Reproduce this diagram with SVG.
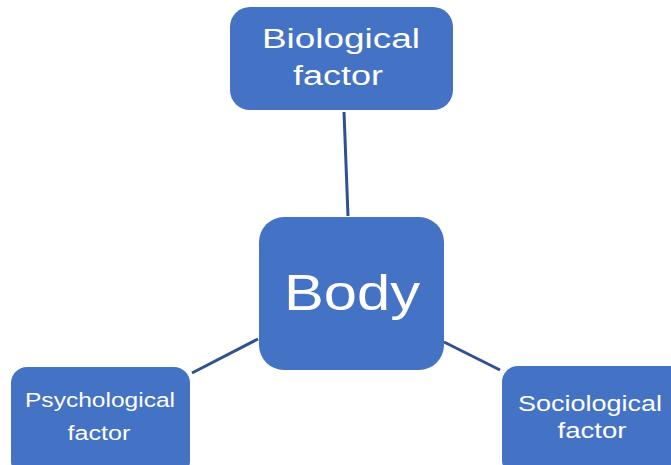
<svg xmlns="http://www.w3.org/2000/svg" width="671" height="465" viewBox="0 0 671 465">
<style>
.box{fill:#4472C4;}
.lbl{fill:#ffffff;font-family:"Liberation Sans","Open Sans",sans-serif;text-anchor:middle;}
.con{stroke:#2F528F;stroke-width:3;fill:none;}
</style>
<rect width="671" height="465" fill="#ffffff"/>
<g id="connectors">
<line class="con" x1="344" y1="112" x2="348" y2="216"/>
<line class="con" x1="192" y1="373" x2="258" y2="339"/>
<line class="con" x1="444" y1="342" x2="500" y2="370"/>
</g>
<g id="biological">
<rect class="box" x="230" y="7" width="223" height="103" rx="20"/>
<text class="lbl" x="341" y="48" font-size="27" textLength="158" lengthAdjust="spacingAndGlyphs">Biological</text>
<text class="lbl" x="338" y="85" font-size="27" textLength="90" lengthAdjust="spacingAndGlyphs">factor</text>
</g>
<g id="body">
<rect class="box" x="259" y="217" width="185" height="153" rx="25"/>
<text class="lbl" x="352" y="310" font-size="50" textLength="136" lengthAdjust="spacingAndGlyphs">Body</text>
</g>
<g id="psychological">
<rect class="box" x="11" y="367" width="179" height="110" rx="16"/>
<text class="lbl" x="100" y="407" font-size="20" textLength="150" lengthAdjust="spacingAndGlyphs">Psychological</text>
<text class="lbl" x="99" y="440" font-size="20" textLength="63" lengthAdjust="spacingAndGlyphs">factor</text>
</g>
<g id="sociological">
<rect class="box" x="502" y="366" width="185" height="110" rx="16"/>
<text class="lbl" x="590" y="411" font-size="22" textLength="144" lengthAdjust="spacingAndGlyphs">Sociological</text>
<text class="lbl" x="592" y="438" font-size="22" textLength="69" lengthAdjust="spacingAndGlyphs">factor</text>
</g>
</svg>
